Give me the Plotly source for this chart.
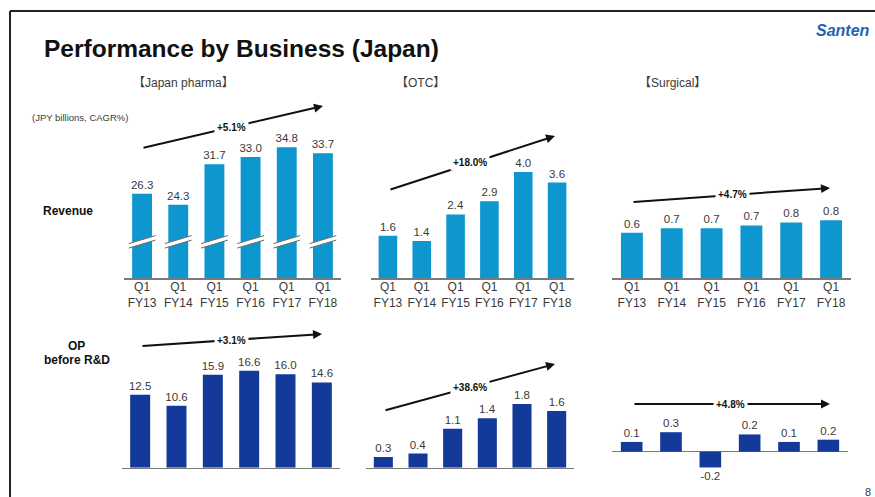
import plotly.graph_objects as go

W, H = 875, 497

# ---------------- data ----------------
periods = ["FY13", "FY14", "FY15", "FY16", "FY17", "FY18"]
tick_labels = ["Q1<br>" + p for p in periods]

pharma_rev = [26.3, 24.3, 31.7, 33.0, 34.8, 33.7]
otc_rev = [1.6, 1.4, 2.4, 2.9, 4.0, 3.6]
surg_rev = [0.63, 0.69, 0.69, 0.73, 0.77, 0.80]

pharma_op = [12.5, 10.6, 15.9, 16.6, 16.0, 14.6]
otc_op = [0.3, 0.4, 1.1, 1.4, 1.8, 1.6]
surg_op = [0.13, 0.26, -0.21, 0.23, 0.13, 0.16]

cagr_rev = ["+5.1%", "+18.0%", "+4.7%"]
cagr_op = ["+3.1%", "+38.6%", "+4.8%"]

sections = ["【Japan pharma】", "【OTC】", "【Surgical】"]

# ---------------- styles ----------------
REV_COLOR = "#0e97cf"
OP_COLOR = "#13399b"
AXIS_COLOR = "#7a7a7a"
TXT = "#3a3a3a"
FONT = "Liberation Sans, Arial, sans-serif"
CJK = "Liberation Sans, Noto Sans CJK JP, sans-serif"


def px(x):
    return x / W


def py(y):
    return 1 - y / H


# panel geometry in pixels: x0, x1, ytop, ybot, baseline value at ybot, px per unit
panels = [
    dict(vals=pharma_rev, color=REV_COLOR, x0=124, x1=341, ytop=95, ybot=278.3, base=10.84, scale=5.47, ticks=True),
    dict(vals=otc_rev, color=REV_COLOR, x0=371, x1=574, ytop=95, ybot=278.3, base=0, scale=26.6, ticks=True),
    dict(vals=surg_rev, color=REV_COLOR, x0=612, x1=851, ytop=95, ybot=278.3, base=0, scale=72.5, ticks=True),
    dict(vals=pharma_op, color=OP_COLOR, x0=122, x1=340, ytop=320, ybot=467.7, base=0, scale=5.84, ticks=False),
    dict(vals=otc_op, color=OP_COLOR, x0=366, x1=574, ytop=320, ybot=467.7, base=0, scale=35.4, ticks=False),
    dict(vals=surg_op, color=OP_COLOR, x0=612, x1=848, ytop=320, ybot=490, base=None, zero_y=451.7, scale=75, ticks=False),
]

fig = go.Figure()
layout_axes = {}

for k, p in enumerate(panels):
    n = k + 1
    xa = "x" if n == 1 else f"x{n}"
    ya = "y" if n == 1 else f"y{n}"
    fig.add_trace(go.Bar(
        x=periods, y=p["vals"], xaxis=xa, yaxis=ya,
        marker=dict(color=p["color"], line=dict(width=0)),
        width=0.55,
        texttemplate="%{y:.1f}", textposition="outside",
        textfont=dict(family=FONT, size=11.5, color=TXT),
        constraintext="none", cliponaxis=False,
        showlegend=False, hoverinfo="skip",
    ))
    if p["base"] is None:
        lo = -(p["ybot"] - p["zero_y"]) / p["scale"]
        hi = (p["zero_y"] - p["ytop"]) / p["scale"]
    else:
        lo = p["base"]
        hi = p["base"] + (p["ybot"] - p["ytop"]) / p["scale"]
    xkey = "xaxis" if n == 1 else f"xaxis{n}"
    ykey = "yaxis" if n == 1 else f"yaxis{n}"
    layout_axes[xkey] = dict(
        domain=[px(p["x0"]), px(p["x1"])], anchor=ya, type="category",
        range=[-0.5, 5.5], showgrid=False, zeroline=False,
        showline=p["base"] is not None, linecolor=AXIS_COLOR, linewidth=1.5,
        tickmode="array", tickvals=periods,
        ticktext=tick_labels if p["ticks"] else [""] * 6,
        ticks="", ticklabelstandoff=-3,
        tickfont=dict(family=FONT, size=12, color=TXT),
        fixedrange=True,
    )
    layout_axes[ykey] = dict(
        domain=[py(p["ybot"]), py(p["ytop"])], anchor=xa,
        range=[lo, hi], showgrid=False, showticklabels=False,
        zeroline=p["base"] is None, zerolinecolor=AXIS_COLOR, zerolinewidth=1.5,
        showline=False, fixedrange=True,
    )

fig.update_layout(**layout_axes)

shapes = []
# frame of the slide
shapes.append(dict(type="line", xref="paper", yref="paper", x0=px(10), x1=1.0, y0=py(11), y1=py(11),
                   line=dict(color="#222222", width=2)))
shapes.append(dict(type="line", xref="paper", yref="paper", x0=px(10), x1=px(10), y0=py(11), y1=0,
                   line=dict(color="#222222", width=2)))

# axis-break marks on Japan pharma revenue bars
brk = 17.5
dx, dy, t = 0.37, 4 / 5.47, 4.5 / 5.47
for i, v in enumerate(pharma_rev):
    path = (f"M {i - dx},{brk - dy - t / 2} L {i + dx},{brk + dy - t / 2} "
            f"L {i + dx},{brk + dy + t / 2} L {i - dx},{brk - dy + t / 2} Z")
    shapes.append(dict(type="path", xref="x", yref="y", path=path, fillcolor="white",
                       line=dict(width=0)))
    for s in (-1, 1):
        shapes.append(dict(type="line", xref="x", yref="y",
                           x0=i - dx, y0=brk - dy + s * t / 2, x1=i + dx, y1=brk + dy + s * t / 2,
                           line=dict(color="#6a6a6a", width=1)))

annotations = []
# title and logo
annotations.append(dict(text="<b>Performance by Business (Japan)</b>", x=px(42), y=py(49), xref="paper", yref="paper",
                        xanchor="left", yanchor="middle", showarrow=False,
                        font=dict(family=FONT, size=24.5, color="#111111")))
annotations.append(dict(text="<b><i>Santen</i></b>", x=px(872), y=py(31), xref="paper", yref="paper",
                        xanchor="right", yanchor="middle", showarrow=False,
                        font=dict(family="Liberation Sans Narrow, Liberation Sans, sans-serif", size=16, color="#2563ad")))
# section headers
for txt, cx in zip(sections, [183, 420, 672]):
    annotations.append(dict(text=txt, x=px(cx), y=py(83), xref="paper", yref="paper",
                            xanchor="center", yanchor="middle", showarrow=False,
                            font=dict(family=CJK, size=12, color=TXT)))
annotations.append(dict(text="(JPY billions, CAGR%)", x=px(30), y=py(117), xref="paper", yref="paper",
                        xanchor="left", yanchor="middle", showarrow=False,
                        font=dict(family=FONT, size=9.5, color=TXT)))
annotations.append(dict(text="<b>Revenue</b>", x=px(68), y=py(211), xref="paper", yref="paper",
                        xanchor="center", yanchor="middle", showarrow=False,
                        font=dict(family=FONT, size=12, color="#111111")))
annotations.append(dict(text="<b>OP</b>", x=px(76), y=py(345.5), xref="paper", yref="paper",
                        xanchor="center", yanchor="middle", showarrow=False,
                        font=dict(family=FONT, size=12, color="#111111")))
annotations.append(dict(text="<b>before R&D</b>", x=px(77), y=py(359.5), xref="paper", yref="paper",
                        xanchor="center", yanchor="middle", showarrow=False,
                        font=dict(family=FONT, size=12, color="#111111")))
annotations.append(dict(text="8", x=px(868), y=py(492), xref="paper", yref="paper",
                        xanchor="center", yanchor="middle", showarrow=False,
                        font=dict(family=FONT, size=11, color=TXT)))

# CAGR arrows: (start px, end px, label px)
arrows = [
    ((142, 148), (323, 106), (232, 127)),
    ((389, 190), (555, 136), (470, 162)),
    ((632, 202), (830, 188), (732, 194)),
    ((141, 346), (322, 334), (232, 340.5)),
    ((384, 410.7), (555, 364), (470, 387.7)),
    ((633, 404), (830, 404), (730, 404)),
]
labels = cagr_rev + cagr_op
for (s, e, lab), txt in zip(arrows, labels):
    annotations.append(dict(text="", x=px(e[0]), y=py(e[1]), xref="paper", yref="paper",
                            ax=s[0] - e[0], ay=s[1] - e[1], axref="pixel", ayref="pixel",
                            showarrow=True, arrowhead=2, arrowsize=0.9, arrowwidth=2,
                            arrowcolor="#111111", standoff=0, startstandoff=0))
    annotations.append(dict(text=f"<b>{txt}</b>", x=px(lab[0]), y=py(lab[1]), xref="paper", yref="paper",
                            xanchor="center", yanchor="middle", showarrow=False, bgcolor="white",
                            borderpad=2, font=dict(family=FONT, size=10, color="#111111")))

fig.update_layout(
    width=W, height=H, margin=dict(l=0, r=0, t=0, b=0),
    paper_bgcolor="white", plot_bgcolor="rgba(0,0,0,0)",
    shapes=shapes, annotations=annotations, bargap=0.45,
    font=dict(family=FONT),
)

fig.write_html("out.html", config={"displayModeBar": False, "staticPlot": True},
               post_script="document.body.style.margin='0px'; document.body.style.overflow='hidden';")
